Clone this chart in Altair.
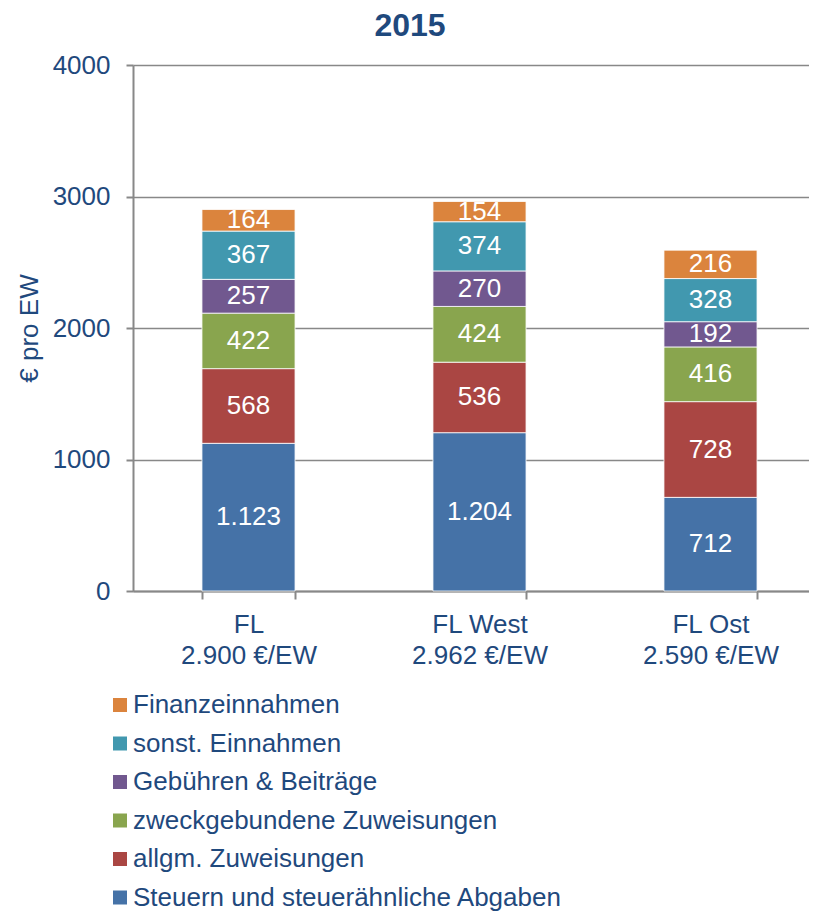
import altair as alt
import pandas as pd

categories = ["FL", "FL West", "FL Ost"]
totals = ["2.900 €/EW", "2.962 €/EW", "2.590 €/EW"]
series = [
    "Steuern und steuerähnliche Abgaben",
    "allgm. Zuweisungen",
    "zweckgebundene Zuweisungen",
    "Gebühren & Beiträge",
    "sonst. Einnahmen",
    "Finanzeinnahmen",
]
colors = ["#4572A7", "#AA4643", "#89A54E", "#71588F", "#4198AF", "#DB843D"]
values = {
    "FL": [1123, 568, 422, 257, 367, 164],
    "FL West": [1204, 536, 424, 270, 374, 154],
    "FL Ost": [712, 728, 416, 192, 328, 216],
}
y_ticks = [0, 1000, 2000, 3000, 4000]

TEXT = "#1F497D"
GRID = "#888888"
FONT = "Liberation Sans"

rows = []
for cat, tot in zip(categories, totals):
    for i, s in enumerate(series):
        v = values[cat][i]
        rows.append({
            "label": f"{cat}|{tot}",
            "series": s,
            "idx": i,
            "value": v,
            "txt": f"{v:,}".replace(",", "."),
        })
df = pd.DataFrame(rows)
x_order = [f"{c}|{t}" for c, t in zip(categories, totals)]

x_enc = alt.X(
    "label:N",
    sort=x_order,
    scale=alt.Scale(range=[0, 693], paddingInner=0.597, paddingOuter=0.2985),
    axis=alt.Axis(
        title=None,
        labelExpr="split(datum.label, '|')",
        labelAngle=0,
        labelFontSize=26,
        labelColor=TEXT,
        labelFont=FONT,
        labelLineHeight=31,
        labelPadding=12,
        labelBaseline="top",
        tickBand="extent",
        tickSize=8,
        tickColor=GRID,
        tickWidth=2,
        domainColor=GRID,
        domainWidth=2,
        grid=False,
    ),
)
y_scale = alt.Scale(domain=[0, 4000], nice=False)
y_axis = alt.Axis(
    title="€ pro EW",
    titleFontSize=26,
    titleFont=FONT,
    titleFontWeight="normal",
    titleColor=TEXT,
    titleAngle=-90,
    titleX=-104,
    titleY=263,
    titleAlign="center",
    titleBaseline="middle",
    values=y_ticks,
    format="d",
    labelFontSize=26,
    labelFont=FONT,
    labelColor=TEXT,
    labelPadding=16,
    tickSize=7,
    tickColor=GRID,
    tickWidth=2,
    domainColor=GRID,
    domainWidth=2,
    gridColor=GRID,
    gridWidth=1.5,
)

base = alt.Chart(df)

bars = base.mark_bar(stroke="white", strokeWidth=0.8).encode(
    x=x_enc,
    y=alt.Y("value:Q", stack="zero", scale=y_scale, axis=y_axis),
    color=alt.Color(
        "series:N",
        scale=alt.Scale(domain=series[::-1], range=colors[::-1]),
        legend=alt.Legend(
            title=None,
            orient="none",
            legendX=-26,
            legendY=627,
            direction="vertical",
            symbolType="square",
            symbolSize=196,
            symbolStrokeWidth=0,
            symbolOpacity=1,
            labelFontSize=26,
            labelFont=FONT,
            labelColor=TEXT,
            labelOffset=0,
            rowPadding=12.5,
            padding=0,
            labelLimit=600,
        ),
    ),
    order=alt.Order("idx:Q", sort="ascending"),
)

labels = base.transform_stack(
    stack="value",
    groupby=["label"],
    as_=["v0", "v1"],
    sort=[alt.SortField("idx", order="ascending")],
).transform_calculate(
    mid="(datum.v0 + datum.v1) / 2"
).mark_text(color="white", fontSize=26, font=FONT, baseline="middle").encode(
    x=alt.X("label:N", sort=x_order),
    y=alt.Y("mid:Q", scale=y_scale),
    text="txt:N",
)

chart = (
    alt.layer(bars, labels)
    .properties(
        width=676,
        height=526,
        autosize=alt.AutoSizeParams(type="none"),
        padding={"left": 125, "top": 57, "right": 0, "bottom": 321},
        title=alt.TitleParams(
            "2015",
            fontSize=32,
            font=FONT,
            fontWeight="bold",
            color=TEXT,
            anchor="middle",
            frame="group",
            dx=-61,
            offset=9,
        ),
    )
    .configure_view(stroke=None)
)

chart.save("out.html", embed_options={"renderer": "svg", "actions": False})
